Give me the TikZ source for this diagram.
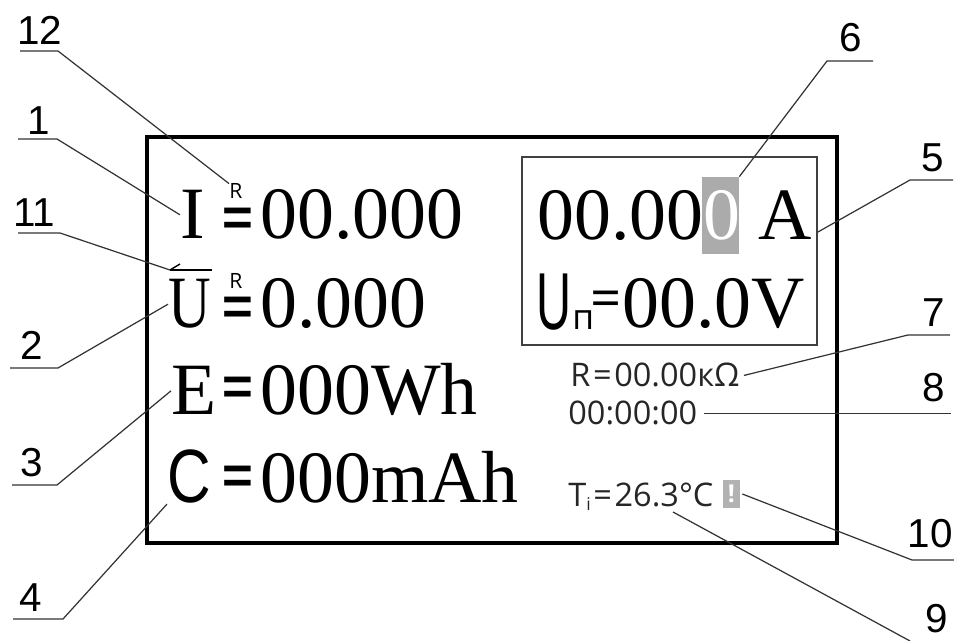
\documentclass[tikz,border=0pt]{standalone}
\usepackage{graphicx}
\usepackage{fontspec}
\setmainfont{Liberation Serif}
\setsansfont{Liberation Sans}
\newfontfamily\lcdsans{Open Sans}
\usetikzlibrary{arrows.meta, positioning}

\begin{document}
\begin{tikzpicture}[
    x=0.02cm, y=-0.02cm,
    screen/.style={draw, line width=2.2pt, minimum width=13.8cm, minimum height=8.12cm, inner sep=0},
    window/.style={draw=black!75, line width=1.1pt, minimum width=5.9cm, minimum height=3.76cm, inner sep=0},
    cursor/.style={fill=black!33, minimum width=0.74cm, minimum height=1.54cm, inner sep=0},
    warnbox/.style={fill=black!30, text=white, minimum width=0.34cm, minimum height=0.56cm, inner sep=0, font=\lcdsans\bfseries\fontsize{14}{14}\selectfont},
    big/.style={inner sep=0, anchor=base west, font=\fontsize{42}{42}\selectfont},
    bigsans/.style={inner sep=0, anchor=base west, font=\sffamily\fontsize{43}{43}\selectfont},
    small/.style={inner sep=0, anchor=base west, text=black!85, font=\lcdsans\fontsize{18.5}{18.5}\selectfont},
    eqsign/.style={inner sep=0, anchor=base west, font=\sffamily\bfseries\fontsize{30}{30}\selectfont},
    tag/.style={inner sep=0, anchor=base west, font=\lcdsans\fontsize{12}{12}\selectfont},
    num/.style={inner sep=0, anchor=base, font=\sffamily\fontsize{23}{23}\selectfont},
    leader/.style={draw=black!80, line width=0.7pt}
]
\useasboundingbox (0,0) rectangle (954,641);

\node[screen] (screen) at (492,340) {};
\node[window] (win) at (669.5,251) {};

\node[big] (i1) at (180,239) {I};
\node[tag] (r1) at (229,199) {R};
\node[eqsign] (eq1) at (222,236) {=};
\node[big] (v1) at (260,239) {00.000};

\node[big] (u2) at (168,328) {\scalebox{0.8}[1]{U}};
\coordinate (arr) at (170,270);
\draw[line width=1pt] (arr) -- ++(42,0);
\draw[line width=0.8pt] (arr) -- ++(10,-6);
\node[tag] (r2) at (229,289) {R};
\node[eqsign] (eq2) at (222,325) {=};
\node[big] (v2) at (260,328) {0.000};

\node[big] (e3) at (171,415) {E};
\node[eqsign] (eq3) at (222,405) {=};
\node[big] (v3) at (260,415) {000Wh};

\node[bigsans] (c4) at (167,503) {\scalebox{0.8}[1]{C}};
\node[eqsign] (eq4) at (222,494) {=};
\node[big] (v4) at (260,503) {000mAh};

\node[cursor] (cur) at (720.5,215.5) {};
\node[big] (amp) at (537,240) {00.00\textcolor{white}{0} A};
\node[bigsans, font=\sffamily\fontsize{46}{46}\selectfont] (un) at (536,330) {\scalebox{0.6}[1]{U}};
\node[inner sep=0, anchor=base west, font=\lcdsans\fontsize{20}{20}\selectfont] (pn) at (572,330) {п};
\node[inner sep=0, anchor=base west, font=\lcdsans\fontsize{31}{31}\selectfont] (eq5) at (590,318) {=};
\node[big] (volt) at (622,328) {00.0V};

\node[small] (res) at (570,387) {R\kern1.5pt=\kern1.5pt00.00кΩ};
\node[small] (clock) at (568,425) {00:00:00};
\node[small] (temp) at (568,507) {T\raisebox{-2pt}{\fontsize{10}{10}\selectfont i}\kern1.5pt=\kern1.5pt26.3°C};
\node[warnbox] (warn) at (731.5,494) {!};
\coordinate (t9) at (673,512);

\node[num] (l12) at (40,45) {12};
\node[num] (l1) at (39,135) {1};
\node[num] (l11) at (34,227) {11};
\node[num] (l2) at (32,360) {2};
\node[num] (l3) at (32,477) {3};
\node[num] (l4) at (31,612) {4};
\node[num] (l6) at (851,52) {6};
\node[num] (l5) at (933,172) {5};
\node[num] (l7) at (934,327) {7};
\node[num] (l8) at (934,402) {8};
\node[num] (l10) at (930,548) {10};
\node[num] (l9) at (937,633) {9};

\draw[leader] (l12.base) ++(-20,6) -- ++(38,0) -- (r1.north west);
\draw[leader] (l1.base) ++(-21,4) -- ++(39,0) -- (i1.west);
\draw[leader] (l11.base) ++(-16,6) -- ++(42,0) -- (arr);
\draw[leader] (l2.base) ++(-22,8) -- ++(48,0) -- (u2.west);
\draw[leader] (l3.base) ++(-20,8) -- ++(45,0) -- (e3.west);
\draw[leader] (l4.base) ++(-18,7) -- ++(50,0) -- (c4.south west);
\draw[leader] (l6.base) ++(22,9) -- ++(-46,0) -- (cur.north east);
\draw[leader] (l5.base) ++(20,8) -- ++(-43,0) -- ([yshift=0.38cm]win.east);
\draw[leader] (l7.base) ++(16,8) -- ++(-42,0) -- ([xshift=0.08cm]res.east);
\draw[leader] ([xshift=0.12cm]clock.east) -- ([xshift=0.1cm]clock.east -| l8.east);
\draw[leader] (l10.base) ++(24,12) -- ++(-42,0) -- ([xshift=0.04cm]warn.east);
\draw[leader] (l9.base) ++(-27,8) -- (t9);
\end{tikzpicture}
\end{document}
